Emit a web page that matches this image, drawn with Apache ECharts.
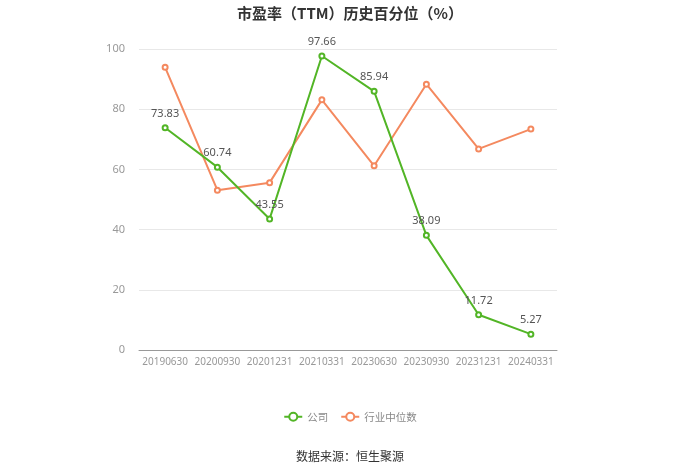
<!DOCTYPE html>
<html><head><meta charset="utf-8">
<script src="https://cdn.jsdelivr.net/npm/echarts@6/dist/echarts.min.js"></script>
<style>html,body{margin:0;padding:0;background:#fff}#c{width:700px;height:474px}</style>
</head><body><div id="c"></div>
<script>
const categories = ['20190630','20200930','20201231','20210331','20230630','20230930','20231231','20240331'];
const companyValues = [73.83, 60.74, 43.55, 97.66, 85.94, 38.09, 11.72, 5.27];
const industryValues = [93.9, 53.1, 55.6, 83.1, 61.2, 88.3, 66.8, 73.4];
const yTicks = {min: 0, max: 100, interval: 20};

const chart = echarts.init(document.getElementById('c'), null, {renderer: 'canvas'});
chart.setOption({
  animation: false,
  title: {
    text: '市盈率（TTM）历史百分位（%）',
    left: 'center', top: 1,
    textStyle: {fontSize: 15, fontWeight: 'bold', color: '#333', fontFamily: 'Noto Sans CJK SC'}
  },
  legend: {
    bottom: 47, left: 'center',
    itemWidth: 18, itemHeight: 10, itemGap: 12,
    textStyle: {color: '#888', fontSize: 10.5, fontFamily: 'Noto Sans CJK SC'},
    data: ['公司', '行业中位数']
  },
  graphic: [{
    type: 'text', left: 'center', top: 450,
    style: {text: '数据来源：恒生聚源', fill: '#333', fontSize: 12, fontFamily: 'Noto Sans CJK SC'}
  }],
  grid: {left: 139, right: 143, top: 49, bottom: 124},
  xAxis: {
    type: 'category', data: categories, boundaryGap: true,
    axisLine: {lineStyle: {color: '#999'}},
    axisTick: {alignWithLabel: true, lineStyle: {color: '#999'}},
    axisLabel: {color: '#999', fontSize: 10, interval: 0, margin: 7, fontFamily: 'Noto Sans'}
  },
  yAxis: {
    type: 'value', min: yTicks.min, max: yTicks.max, interval: yTicks.interval,
    axisLine: {show: false}, axisTick: {show: false},
    axisLabel: {color: '#999', fontSize: 11, margin: 14, fontFamily: 'Noto Sans'},
    splitLine: {lineStyle: {color: '#e8e8e8'}}
  },
  series: [
    {
      name: '公司', type: 'line', data: companyValues,
      symbol: 'emptyCircle', symbolSize: 5,
      lineStyle: {color: '#52b526', width: 2},
      itemStyle: {color: '#52b526'},
      label: {show: true, position: 'top', color: '#555', fontSize: 11, fontFamily: 'Noto Sans'},
      z: 3
    },
    {
      name: '行业中位数', type: 'line', data: industryValues,
      symbol: 'emptyCircle', symbolSize: 5,
      lineStyle: {color: '#f4895f', width: 2},
      itemStyle: {color: '#f4895f'},
      z: 2
    }
  ]
});
</script></body></html>
